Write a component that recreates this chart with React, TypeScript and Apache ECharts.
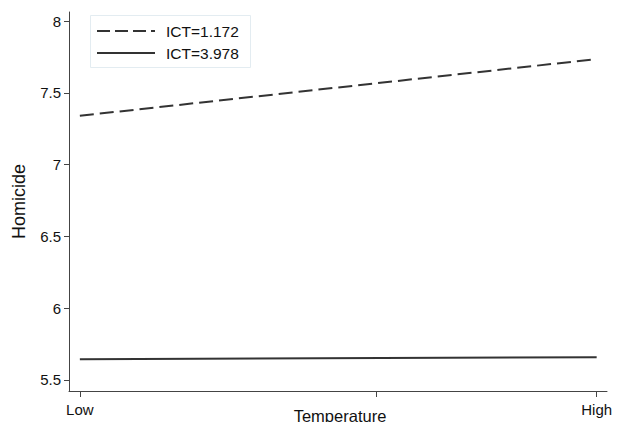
import React, { useEffect, useRef } from "react";
import * as echarts from "echarts";

const xCategories = ["Low", "High"];
const xPositions = [0, 1];
const middleTickPosition = 0.574;
const xAxisTitle = "Temperature";
const yAxisTitle = "Homicide";
const seriesNames = ["ICT=1.172", "ICT=3.978"];
const lowIctValues = [7.34, 7.735];
const highIctValues = [5.644, 5.658];
const yTickValues = [5.5, 6, 6.5, 7, 7.5, 8];

const FONT = "'Liberation Sans', Arial, sans-serif";

export default function App() {
  const ref = useRef<HTMLDivElement>(null);
  useEffect(() => {
    if (!ref.current) return;
    const chart = echarts.init(ref.current, undefined, { renderer: "svg" });
    const mk = (vals: number[]) => vals.map((v, i) => [xPositions[i], v]);
    chart.setOption({
      animation: false,
      backgroundColor: "#ffffff",
      grid: { left: 69, right: 16, top: 12, bottom: 31, containLabel: false, outerBoundsMode: "none" },
      xAxis: {
        type: "value",
        min: -0.021,
        max: 1.02,
        axisLine: { show: true, onZero: false, lineStyle: { color: "#444", width: 1 } },
        axisTick: { show: true, length: 6, customValues: [0, middleTickPosition, 1], lineStyle: { color: "#444" } },
        axisLabel: {
          customValues: xPositions,
          margin: 11,
          fontFamily: FONT,
          fontSize: 15,
          color: "#111",
          formatter: (v: number) => {
            const i = xPositions.findIndex((p) => Math.abs(p - v) < 1e-6);
            return i >= 0 ? xCategories[i] : "";
          },
        },
        splitLine: { show: false },
      },
      yAxis: {
        type: "value",
        min: 5.423,
        max: 8.063,
        name: yAxisTitle,
        nameLocation: "middle",
        nameGap: 41,
        nameRotate: 90,
        nameTextStyle: { fontFamily: FONT, fontSize: 18, color: "#111" },
        axisLine: { show: true, onZero: false, lineStyle: { color: "#444", width: 1 } },
        axisTick: { show: true, length: 5, customValues: yTickValues, lineStyle: { color: "#444" } },
        axisLabel: {
          customValues: yTickValues,
          margin: 8,
          fontFamily: FONT,
          fontSize: 15,
          color: "#111",
          formatter: (v: number) => String(v),
        },
        splitLine: { show: false },
      },
      graphic: [
        {
          type: "text",
          x: 340,
          y: 407,
          style: { text: xAxisTitle, fontFamily: FONT, fontSize: 16.5, fill: "#111", textAlign: "center", verticalAlign: "top" },
          z: 11,
        },
        {
          type: "rect",
          shape: { x: 90.5, y: 15.5, width: 160, height: 52 },
          style: { fill: "#ffffff", stroke: "#e3ecf1", lineWidth: 1 },
          z: 10,
        },
        {
          type: "line",
          shape: { x1: 97, y1: 31, x2: 155, y2: 31 },
          style: { stroke: "#333", lineWidth: 2, lineDash: [13, 5] },
          z: 11,
        },
        {
          type: "line",
          shape: { x1: 97, y1: 53, x2: 155, y2: 53 },
          style: { stroke: "#333", lineWidth: 2 },
          z: 11,
        },
        {
          type: "text",
          x: 166,
          y: 31,
          style: { text: seriesNames[0], fontFamily: FONT, fontSize: 15.5, fill: "#111", verticalAlign: "middle" },
          z: 11,
        },
        {
          type: "text",
          x: 166,
          y: 53,
          style: { text: seriesNames[1], fontFamily: FONT, fontSize: 15.5, fill: "#111", verticalAlign: "middle" },
          z: 11,
        },
      ],
      series: [
        {
          name: seriesNames[0],
          type: "line",
          data: mk(lowIctValues),
          symbol: "none",
          lineStyle: { color: "#333", width: 2, type: [14, 6] },
        },
        {
          name: seriesNames[1],
          type: "line",
          data: mk(highIctValues),
          symbol: "none",
          lineStyle: { color: "#333", width: 2 },
        },
      ],
    });
    return () => chart.dispose();
  }, []);
  return <div ref={ref} style={{ width: 623, height: 422, position: "absolute", left: 0, top: 0 }} />;
}
